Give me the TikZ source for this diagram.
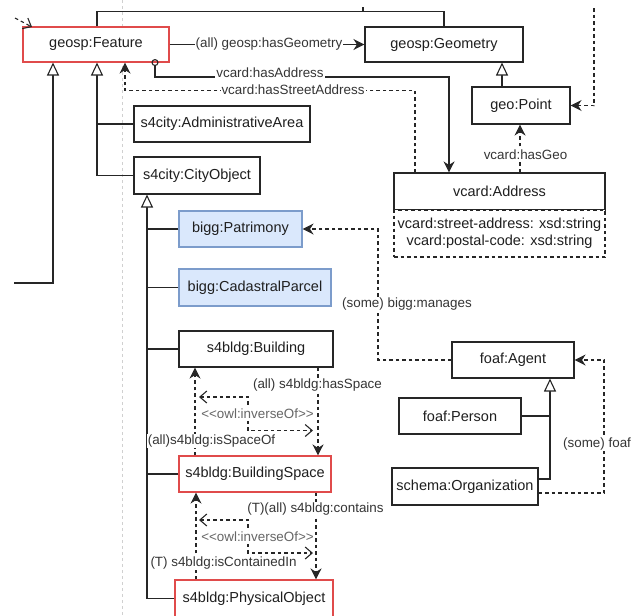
\documentclass[tikz,border=0pt]{standalone}
\usepackage{fontspec}
\setmainfont{Liberation Sans}
\usetikzlibrary{arrows.meta}
\definecolor{ink}{HTML}{1F1F1F}
\definecolor{lnc}{HTML}{262626}
\definecolor{redb}{HTML}{E04B4B}
\definecolor{bluef}{HTML}{DAE8FC}
\definecolor{blueb}{HTML}{7C9CCB}
\definecolor{pagec}{HTML}{D0D0D0}
\begin{document}
\begin{tikzpicture}[x=1pt,y=-1pt,
  box/.style={draw=lnc, line width=1.1pt, fill=white, inner sep=0pt, text=ink,
    font=\fontsize{14.5}{17}\selectfont},
  redbox/.style={box, draw=redb},
  bluebox/.style={box, draw=blueb, fill=bluef},
  ln/.style={draw=lnc, line width=1.1pt},
  dsh/.style={dash pattern=on 3.5pt off 3pt},
  inh/.style={-{Triangle[length=13pt,width=12pt,fill=white]}},
  arr/.style={-{Stealth[length=11pt,width=11pt,inset=3.5pt]}},
  opn/.style={-{Straight Barb[length=7pt,width=12pt]}},
  opnboth/.style={{Straight Barb[length=7pt,width=12pt]}-{Straight Barb[length=7pt,width=12pt]}},
  lbl/.style={fill=white, inner sep=1pt, text=ink!90, font=\fontsize{13.4}{15}\selectfont},
  invlbl/.style={lbl, text=black!60}
]
\clip (0,0) rectangle (635,616);

% page boundary guide
\coordinate (pgTop) at (122.5,0);
\coordinate (pgBot) at (122.5,616);
\draw[pagec, line width=1pt, dash pattern=on 3pt off 3pt] (pgTop) -- (pgBot);

% classes
\node[redbox, minimum width=146pt, minimum height=35pt] (feat) at (96,44.5) {geosp:Feature};
\node[box, minimum width=158pt, minimum height=35pt] (geom) at (444,44.5) {geosp:Geometry};
\node[box, minimum width=98pt, minimum height=37pt] (point) at (521,105.5) {geo:Point};
\node[box, minimum width=211pt, minimum height=37pt] (addr) at (499.5,191.5) {vcard:Address};
\node[box, dsh, minimum width=211pt, minimum height=47pt, align=center] (addrattr) at (499.5,233.5)
  {vcard:street-address: xsd:string\\vcard:postal-code: xsd:string};
\node[box, minimum width=176pt, minimum height=36pt] (admin) at (222,124) {s4city:AdministrativeArea};
\node[box, minimum width=126pt, minimum height=37pt] (cityobj) at (197,175.5) {s4city:CityObject};
\node[bluebox, minimum width=123pt, minimum height=36pt] (patr) at (240.5,229) {bigg:Patrimony};
\node[bluebox, minimum width=152pt, minimum height=37pt] (cadas) at (255,287.5) {bigg:CadastralParcel};
\node[box, minimum width=154pt, minimum height=36pt] (bldg) at (256,349) {s4bldg:Building};
\node[redbox, minimum width=152pt, minimum height=36pt] (bspace) at (255,474) {s4bldg:BuildingSpace};
\node[redbox, minimum width=158pt, minimum height=37pt] (physobj) at (254,598.5) {s4bldg:PhysicalObject};
\node[box, minimum width=122pt, minimum height=36pt] (agent) at (513,360) {foaf:Agent};
\node[box, minimum width=122pt, minimum height=36pt] (person) at (460,416) {foaf:Person};
\node[box, minimum width=146pt, minimum height=37pt] (org) at (465,486.5) {schema:Organization};

% loose ends of connectors leaving the view
\coordinate (offL) at (14,283);
\coordinate (offTick) at (363,7);
\coordinate (offTR) at (594,8);
\coordinate (offTLa) at (15,18);
\coordinate (offTLb) at (32,27);
\coordinate (inv1a) at (199,397);
\coordinate (inv1b) at (313,430.5);
\coordinate (inv2a) at (199,520);
\coordinate (inv2b) at (313,553);

% subclass links
\draw[ln, inh] (offL) -| (feat.south -| 53,0);
\draw[ln, inh] (cityobj.west) -| (feat.south -| 97,0);
\draw[ln] (admin.west) -- (admin.west -| 97,0);
\draw[ln, inh] (point.north -| 502,0) -- (geom.south -| 502,0);
\draw[ln, inh] (physobj.west) -| (cityobj.south -| 147,0);
\draw[ln] (patr.west) -- (patr.west -| 147,0);
\draw[ln] (cadas.west) -- (cadas.west -| 147,0);
\draw[ln] (bldg.west) -- (bldg.west -| 147,0);
\draw[ln] (bspace.west) -- (bspace.west -| 147,0);
\draw[ln, inh] (org.east |- 0,479) -| (agent.south -| 550,0);
\draw[ln] (person.east) -- (person.east -| 550,0);

% plain links
\draw[ln] (feat.north -| 97,0) -- ++(0,-15) -| (geom.north);
\draw[ln] (offTick) -- (363,12);

% object properties
\draw[ln, arr] (feat.east) -- (geom.west);
\draw[ln, {Circle[open,length=7pt,width=7pt]}-{Stealth[length=11pt,width=11pt,inset=3.5pt]}, shorten <=-3.5pt]
  (feat.south -| 155,0) -- (155,77) -| (addr.north -| 449,0);
\draw[ln, dsh, arr] (addr.north -| 415,0) -- (415,90.5) -| (feat.south -| 125,0);
\draw[ln, dsh, arr] (addr.north -| 520,0) -- (point.south -| 520,0);
\draw[ln, dsh, arr] (offTR) |- (point.east);
\draw[ln, dsh, opn] (offTLa) -- (offTLb);
\draw[ln, dsh, arr] (agent.west) -| (378,229) -- (patr.east);
\draw[ln, dsh, arr] (org.east |- 0,493) -| (604,360) -- (agent.east);
\draw[ln, dsh, arr] (bldg.south -| 318,0) -- (bspace.north -| 318,0);
\draw[ln, dsh, arr] (bspace.north -| 195,0) -- (bldg.south -| 195,0);
\draw[ln, dsh, arr] (bspace.south -| 316,0) -- (physobj.north -| 316,0);
\draw[ln, dsh, arr] (physobj.north -| 196,0) -- (bspace.south -| 196,0);
\draw[ln, dsh, opnboth] (inv1a) -- (248,397) |- (inv1b);
\draw[ln, dsh, opnboth] (inv2a) -- (248,520) |- (inv2b);

% connector labels
\node[lbl] (lGeom) at (269,44.5) {(all) geosp:hasGeometry};
\node[lbl] (lAddr) at (270,72.5) {vcard:hasAddress};
\node[lbl] (lStreet) at (293,89.5) {vcard:hasStreetAddress};
\node[lbl] (lGeo) at (525.5,155) {vcard:hasGeo};
\node[lbl] (lManages) at (407,304) {(some) bigg:manages};
\node[lbl, anchor=west] (lFoaf) at (562,444) {(some) foaf};
\node[lbl] (lHasSpace) at (317.5,385) {(all) s4bldg:hasSpace};
\node[lbl] (lSpaceOf) at (211.5,441) {(all)s4bldg:isSpaceOf};
\node[invlbl] (lInv1) at (257.5,414) {<\kern0pt<owl:inverseOf>\kern0pt>};
\node[lbl] (lContains) at (315.5,509) {(T)(all) s4bldg:contains};
\node[lbl] (lContIn) at (223.5,563) {(T) s4bldg:isContainedIn};
\node[invlbl] (lInv2) at (257.5,537) {<\kern0pt<owl:inverseOf>\kern0pt>};
\end{tikzpicture}
\end{document}
